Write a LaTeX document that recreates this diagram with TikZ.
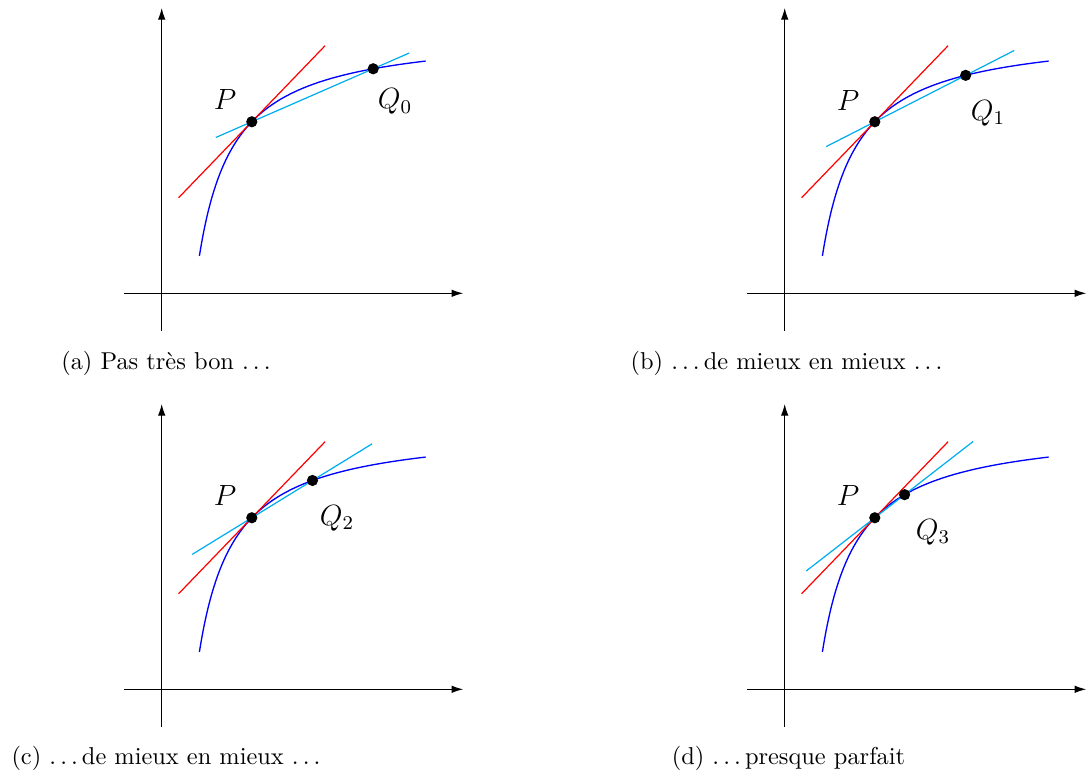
\documentclass[tikz,border=0pt]{standalone}
\usetikzlibrary{arrows.meta,calc}
\definecolor{skyc}{RGB}{0,174,239}
\newcommand\spdots{.\kern0.16667em.\kern0.16667em.\kern0.16667em}
\newcommand\drawpanel[4]{%
\begin{scope}[shift={(#2,#3)},x=15.457pt,y=15.457pt]
  \pgfmathsetmacro\pxx{2.39}
  \pgfmathsetmacro\pyy{6.976-5.671/(2.39-0.0526)}
  \pgfmathsetmacro\qxx{#4}
  \pgfmathsetmacro\qyy{6.976-5.671/(#4-0.0526)}
  \pgfmathsetmacro\tslope{5.671/((2.39-0.0526)^2)}
  \pgfmathsetmacro\tdx{2.8/sqrt(1+\tslope*\tslope)}
  \pgfmathsetmacro\tdy{\tdx*\tslope}
  \pgfmathsetmacro\sdx{\qxx-\pxx}
  \pgfmathsetmacro\sdy{\qyy-\pyy}
  \pgfmathsetmacro\seclen{sqrt(\sdx*\sdx+\sdy*\sdy)}
  \pgfmathsetmacro\sux{2.8*\sdx/\seclen}
  \pgfmathsetmacro\suy{2.8*\sdy/\seclen}
  \pgfmathsetmacro\smx{(\pxx+\qxx)/2}
  \pgfmathsetmacro\smy{(\pyy+\qyy)/2}
  \draw[axis] (-1,0) -- (8,0);
  \draw[axis] (0,-1) -- (0,7.57);
  \draw[curve] plot[domain=1:7,samples=120,smooth] (\x,{6.976-5.671/(\x-0.0526)});
  \draw[tangent] ({\pxx-\tdx},{\pyy-\tdy}) -- ({\pxx+\tdx},{\pyy+\tdy});
  \draw[secant] ({\smx-\sux},{\smy-\suy}) -- ({\smx+\sux},{\smy+\suy});
  \node[dot] (P#1) at (\pxx,\pyy) {};
  \node[dot] (Q#1) at (\qxx,\qyy) {};
\end{scope}}
\begin{document}
\begin{tikzpicture}[x=0.41pt,y=-0.41pt,
  axis/.style={line width=0.5pt,-{Latex[length=4.8pt,width=3.1pt]}},
  curve/.style={blue,line width=0.55pt},
  tangent/.style={red,line width=0.5pt},
  secant/.style={skyc,line width=0.5pt},
  dot/.style={circle,fill=black,inner sep=0pt,minimum size=4.6pt},
  lab/.style={anchor=north west,inner sep=0pt,font=\fontsize{12}{14}\selectfont},
  captxt/.style={anchor=base,inner sep=0pt,font=\fontsize{10}{12}\selectfont}]
\useasboundingbox (0,0) rectangle (1089,771);
\drawpanel{a}{161.7}{293.3}{5.61}
\drawpanel{b}{784.7}{293.3}{4.80}
\drawpanel{c}{161.7}{689.3}{4.0}
\drawpanel{d}{784.7}{689.3}{3.18}
\node[lab] (LPa) at (213.5,89) {$P$};
\node[lab] (LPb) at (836.5,90) {$P$};
\node[lab] (LPc) at (213.5,485) {$P$};
\node[lab] (LPd) at (836.5,485) {$P$};
\node[lab] (LQa) at (377.5,88.3) {$Q_0$};
\node[lab] (LQb) at (970.5,100) {$Q_1$};
\node[lab] (LQc) at (319.5,505) {$Q_2$};
\node[lab] (LQd) at (915.5,519) {$Q_3$};
\node[captxt] (capa) at (168,370) {(a) Pas très bon \spdots};
\node[captxt] (capb) at (788.5,370) {(b) \spdots de mieux en mieux \spdots};
\node[captxt] (capc) at (168,765) {(c) \spdots de mieux en mieux \spdots};
\node[captxt] (capd) at (788.5,765) {(d) \spdots presque parfait};
\end{tikzpicture}
\end{document}
